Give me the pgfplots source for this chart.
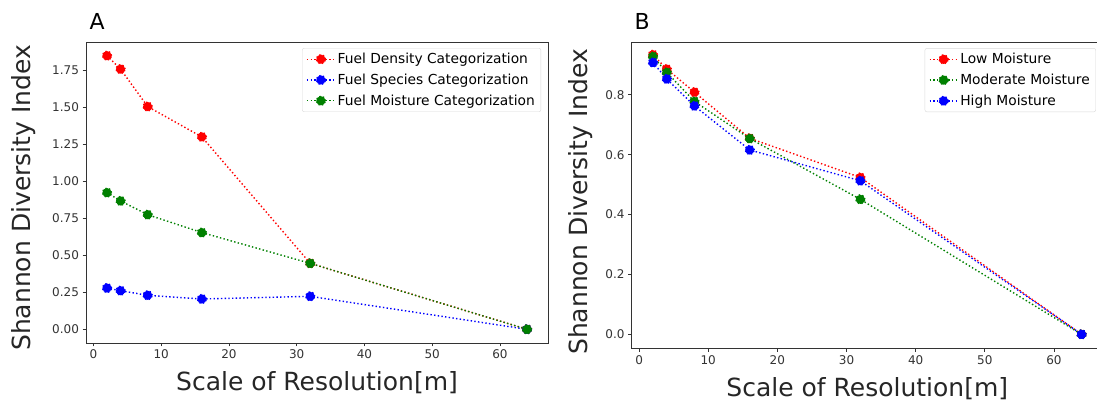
\documentclass[border=0pt]{standalone}
\usepackage{pgfplots}
\pgfplotsset{compat=1.18}
\usepackage{fontspec}
\setmainfont{DejaVu Sans}
\pgfplotsset{
  mystyle/.style={
    scale only axis, anchor=south west,
    axis line style={black!80, line width=0.8pt},
    tick align=outside, xtick pos=bottom, ytick pos=left,
    major tick length=3.5pt,
    tick style={black!80, line width=0.8pt},
    ticklabel style={font=\fontsize{12}{14}\selectfont, text=black!80},
    /pgf/number format/assume math mode=true,
    xlabel style={font=\fontsize{25}{30}\selectfont, text=black!85, anchor=center},
    ylabel style={font=\fontsize{25}{30}\selectfont, text=black!85, anchor=center},
    xlabel={Scale of Resolution[m]},
    ylabel={Shannon Diversity Index},
    xmin=-1.1, xmax=67.1,
    xtick={0,10,...,60},
    legend cell align=left,
    legend style={at={(0.985,0.98)}, anchor=north east, draw=black!15, rounded corners=2pt,
      font=\fontsize{13.8}{16}\selectfont, row sep=4.8pt, inner xsep=4pt, inner ysep=3pt},
    legend image code/.code={\draw[mark repeat=2,mark phase=2] plot coordinates {(-6pt,0pt)(8pt,0pt)(22pt,0pt)};},
    every axis plot/.append style={line width=1.4pt, dash pattern=on 1.4pt off 2.3pt,
      mark=*, mark size=4.6pt, mark options={solid}},
  }
}
\definecolor{mplgreen}{RGB}{0,128,0}
\begin{document}
\begin{tikzpicture}[x=1pt,y=1pt]
\useasboundingbox (0,0) rectangle (1097,403);
\begin{axis}[mystyle, at={(86pt,60pt)}, width=462pt, height=301pt,
  ymin=-0.0925, ymax=1.9425, ytick={0,0.25,...,1.75},
  xlabel style={at={(axis description cs:0.5,-0.133)}},
  ylabel style={at={(axis description cs:-0.136,0.482)}},
  yticklabel style={/pgf/number format/.cd, fixed, fixed zerofill, precision=2}]
\addplot[red, mark options={fill=red}] coordinates {(2,1.85)(4,1.759)(8,1.506)(16,1.301)(32,0.446)(64,0)};
\addlegendentry{Fuel Density Categorization}
\addplot[blue, mark options={fill=blue}] coordinates {(2,0.279)(4,0.261)(8,0.230)(16,0.205)(32,0.223)(64,0)};
\addlegendentry{Fuel Species Categorization}
\addplot[mplgreen, mark options={fill=mplgreen}] coordinates {(2,0.924)(4,0.868)(8,0.775)(16,0.654)(32,0.446)(64,0)};
\addlegendentry{Fuel Moisture Categorization}
\end{axis}
\begin{axis}[mystyle, at={(631.5pt,54.7pt)}, width=471.5pt, height=306.3pt,
  ymin=-0.0465, ymax=0.9765, ytick={0,0.2,...,0.8},
  xlabel style={at={(axis description cs:0.5,-0.133)}},
  ylabel style={at={(axis description cs:-0.109,0.478)}},
  yticklabel style={/pgf/number format/.cd, fixed, fixed zerofill, precision=1}]
\addplot[red, mark options={fill=red}] coordinates {(2,0.934)(4,0.886)(8,0.809)(16,0.655)(32,0.524)(64,0)};
\addlegendentry{Low Moisture}
\addplot[mplgreen, mark options={fill=mplgreen}] coordinates {(2,0.928)(4,0.875)(8,0.778)(16,0.654)(32,0.451)(64,0)};
\addlegendentry{Moderate Moisture}
\addplot[blue, mark options={fill=blue}] coordinates {(2,0.908)(4,0.853)(8,0.763)(16,0.616)(32,0.513)(64,0)};
\addlegendentry{High Moisture}
\end{axis}
\node[anchor=west, font=\fontsize{22}{26}\selectfont] at (86,382) {A};
\node[anchor=west, font=\fontsize{22}{26}\selectfont] at (631,382) {B};
\end{tikzpicture}
\end{document}
